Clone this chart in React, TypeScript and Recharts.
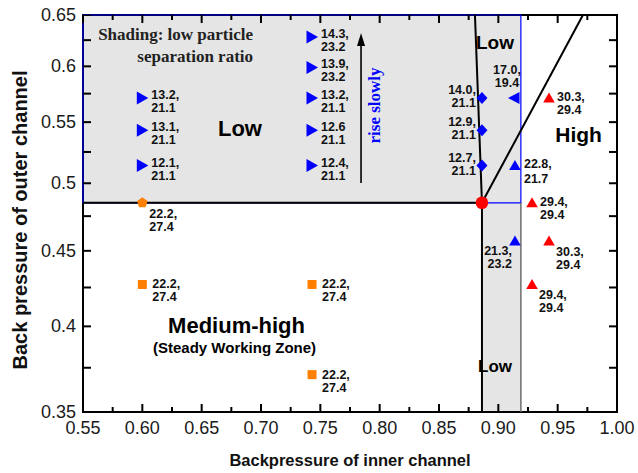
import React from "react";
import {
  ComposedChart,
  XAxis,
  YAxis,
  Scatter,
  ReferenceArea,
  ReferenceLine,
  ReferenceDot,
} from "recharts";

const SANS = "'Liberation Sans', Arial, Helvetica, sans-serif";
const SERIF = "'Liberation Serif', 'Times New Roman', serif";

// axis ticks: even index = labelled major tick, odd index = minor tick
const X_TICKS = [
  0.55, 0.575, 0.6, 0.625, 0.65, 0.675, 0.7, 0.725, 0.75, 0.775, 0.8, 0.825,
  0.85, 0.875, 0.9, 0.925, 0.95, 0.975, 1.0,
];
const Y_TICKS = [
  0.35, 0.375, 0.4, 0.425, 0.45, 0.475, 0.5, 0.525, 0.55, 0.575, 0.6, 0.625,
  0.65,
];

// measured points: x = inner backpressure, y = outer backpressure, label = two lines
const blueRight = [
  { x: 0.6, y: 0.571, label: ["13.2,", "21.1"] },
  { x: 0.6, y: 0.543, label: ["13.1,", "21.1"] },
  { x: 0.6, y: 0.514, label: ["12.1,", "21.1"] },
  { x: 0.743, y: 0.628, label: ["14.3,", "23.2"] },
  { x: 0.743, y: 0.599, label: ["13.9,", "23.2"] },
  { x: 0.743, y: 0.571, label: ["13.2,", "21.1"] },
  { x: 0.743, y: 0.543, label: ["12.6", "21.1"] },
  { x: 0.743, y: 0.514, label: ["12.4,", "21.1"] },
];
const blueDiamond = [
  { x: 0.8862, y: 0.571, label: ["14.0,", "21.1"] },
  { x: 0.8862, y: 0.543, label: ["12.9,", "21.1"] },
  { x: 0.8862, y: 0.514, label: ["12.7,", "21.1"] },
];
const blueLeft = [{ x: 0.9132, y: 0.571, label: ["17.0,", "19.4"] }];
const blueUpRight = [{ x: 0.914, y: 0.514, label: ["22.8,", "21.7"] }];
const blueUpBelow = [{ x: 0.914, y: 0.457, label: ["21.3,", "23.2"] }];
const redUpRight = [
  { x: 0.9427, y: 0.571, label: ["30.3,", "29.4"] },
  { x: 0.9284, y: 0.485, label: ["29.4,", "29.4"] },
];
const redUpBelow = [
  { x: 0.9427, y: 0.457, label: ["30.3,", "29.4"] },
  { x: 0.9284, y: 0.427, label: ["29.4,", "29.4"] },
];
const orangePentagon = [{ x: 0.6, y: 0.485, label: ["22.2,", "27.4"] }];
const orangeSquare = [
  { x: 0.6, y: 0.427, label: ["22.2,", "27.4"] },
  { x: 0.743, y: 0.427, label: ["22.2,", "27.4"] },
  { x: 0.743, y: 0.371, label: ["22.2,", "27.4"] },
];
const criticalPoint = [{ x: 0.8862, y: 0.485 }];

// zone boundaries
const X_MIN = 0.55;
const X_MAX = 1.0;
const Y_MIN = 0.35;
const Y_MAX = 0.65;
const CRIT_X = 0.8862;
const CRIT_Y = 0.485;
const STRIP_X = 0.919;
const TILT_TOP_X = 0.8803;
const DIAG_TOP_X = 0.9713;
const ARROW_X = 0.7843;
const ARROW_Y = [0.5002, 0.632];

const BLUE = "#0000ff";
const RED = "#ff0000";
const ORANGE = "#ff8000";
const SHADE = "#e5e5e5";

// tick-mark anchors on the four sides of the frame
const bottomMarks = X_TICKS.map((v, i) => ({ x: v, y: Y_MIN, minor: i % 2 === 1 }));
const topMarks = X_TICKS.map((v, i) => ({ x: v, y: Y_MAX, minor: i % 2 === 1 }));
const leftMarks = Y_TICKS.map((v) => ({ x: X_MIN, y: v }));
const rightMarks = Y_TICKS.map((v) => ({ x: X_MAX, y: v }));

const pair = (
  x: number,
  y: number,
  lines: string[],
  anchor: "start" | "end" | "middle",
  gap = 13
) => (
  <text
    x={x}
    y={y}
    textAnchor={anchor}
    fontFamily={SANS}
    fontWeight="bold"
    fontSize={12.5}
    fill="#111"
  >
    <tspan x={x}>{lines[0]}</tspan>
    <tspan x={x} dy={gap}>
      {lines[1]}
    </tspan>
  </text>
);

const TriRight = ({ cx, cy, payload }: any) => (
  <g>
    <polygon points={`${cx - 5.5},${cy - 6.5} ${cx + 6},${cy} ${cx - 5.5},${cy + 6.5}`} fill={BLUE} />
    {pair(cx + 9, cy + 1, payload.label, "start")}
  </g>
);

const Diamond = ({ cx, cy, payload }: any) => (
  <g>
    <polygon points={`${cx},${cy - 6} ${cx + 5.5},${cy} ${cx},${cy + 6} ${cx - 5.5},${cy}`} fill={BLUE} />
    {pair(cx - 6, cy - 4, payload.label, "end")}
  </g>
);

const TriLeft = ({ cx, cy, payload }: any) => (
  <g>
    <polygon points={`${cx + 5.5},${cy - 6} ${cx - 6},${cy} ${cx + 5.5},${cy + 6}`} fill={BLUE} />
    {pair(cx - 7, cy - 24, payload.label, "middle")}
  </g>
);

const up = (cx: number, cy: number, fill: string) => (
  <polygon points={`${cx},${cy - 5.5} ${cx + 5.8},${cy + 4.5} ${cx - 5.8},${cy + 4.5}`} fill={fill} />
);

const BlueUpRight = ({ cx, cy, payload }: any) => (
  <g>
    {up(cx, cy, BLUE)}
    {pair(cx + 9, cy + 2, payload.label, "start", 15)}
  </g>
);

const BlueUpBelow = ({ cx, cy, payload }: any) => (
  <g>
    {up(cx, cy, BLUE)}
    {pair(cx - 3, cy + 14, payload.label, "end")}
  </g>
);

const RedUpRight = ({ cx, cy, payload }: any) => (
  <g>
    {up(cx, cy, RED)}
    {pair(cx + 8, cy + 3, payload.label, "start")}
  </g>
);

const RedUpBelow = ({ cx, cy, payload }: any) => (
  <g>
    {up(cx, cy, RED)}
    {pair(cx + 7, cy + 15, payload.label, "start")}
  </g>
);

const Pentagon = ({ cx, cy, payload }: any) => {
  const pts = [0, 1, 2, 3, 4]
    .map((i) => {
      const a = -Math.PI / 2 + (i * 2 * Math.PI) / 5;
      return `${cx + 5.5 * Math.cos(a)},${cy + 5.5 * Math.sin(a)}`;
    })
    .join(" ");
  return (
    <g>
      <polygon points={pts} fill={ORANGE} />
      {pair(cx + 7, cy + 15, payload.label, "start")}
    </g>
  );
};

const Square = ({ cx, cy, payload }: any) => (
  <g>
    <rect x={cx - 4.5} y={cy - 4.5} width={9} height={9} fill={ORANGE} />
    {pair(cx + 10, cy + 4, payload.label, "start")}
  </g>
);

const RedDot = ({ cx, cy }: any) => <circle cx={cx} cy={cy} r={6.3} fill={RED} />;

// inward tick marks, drawn from the frame into the plot
const markLen = (p: any) => (p.payload && p.payload.minor ? 5 : 8);
const BottomMark = (p: any) => (
  <rect x={p.cx - 1} y={p.cy - markLen(p)} width={2} height={markLen(p)} fill="#000" />
);
const TopMark = (p: any) => (
  <rect x={p.cx - 1} y={p.cy} width={2} height={markLen(p)} fill="#000" />
);
const LeftMark = (p: any) => <rect x={p.cx} y={p.cy - 1} width={8} height={2} fill="#000" />;
const RightMark = (p: any) => <rect x={p.cx - 8} y={p.cy - 1} width={8} height={2} fill="#000" />;

// tick labels only
const BottomTick = ({ x, y, index, payload }: any) =>
  index % 2 === 0 ? (
    <text x={x} y={y + 22} textAnchor="middle" fontFamily={SANS} fontSize={18} fill="#1a1a1a">
      {Number(payload.value).toFixed(2)}
    </text>
  ) : (
    <g />
  );

const LeftTick = ({ x, y, index, payload }: any) =>
  index % 2 === 0 ? (
    <text x={x - 7} y={y + 6} textAnchor="end" fontFamily={SANS} fontSize={18} fill="#1a1a1a">
      {String(payload.value)}
    </text>
  ) : (
    <g />
  );

const Arrow = ({ x1, y1, x2, y2 }: any) => (
  <g>
    <line x1={x1} y1={y1} x2={x2} y2={y2 + 10} stroke="#000" strokeWidth={1.6} />
    <polygon points={`${x2},${y2} ${x2 + 4},${y2 + 13} ${x2 - 4},${y2 + 13}`} fill="#000" />
  </g>
);

const note =
  (text: string, size: number, opts: any = {}) =>
  ({ cx, cy }: any) => (
    <text
      x={cx}
      y={cy}
      textAnchor={opts.anchor || "middle"}
      fontFamily={opts.family || SANS}
      fontWeight="bold"
      fontSize={size}
      fill={opts.fill || "#000"}
      transform={opts.rotate ? `rotate(-90 ${cx} ${cy})` : undefined}
    >
      {text}
    </text>
  );

const ShadingNote = ({ cx, cy }: any) => (
  <text x={cx} y={cy} textAnchor="end" fontFamily={SERIF} fontWeight="bold" fontSize={17} fill="#222">
    <tspan x={cx}>Shading: low particle</tspan>
    <tspan x={cx} dy={22}>
      separation ratio
    </tspan>
  </text>
);

const axisIds = { xAxisId: "bottom", yAxisId: "left" };

export default function App() {
  return (
    <div style={{ position: "absolute", left: 0, top: 0, background: "#fff" }}>
      <ComposedChart
        width={638}
        height={473}
        margin={{ top: 15, right: 21, bottom: 0, left: 0 }}
      >
        <XAxis
          xAxisId="bottom"
          type="number"
          dataKey="x"
          domain={[X_MIN, X_MAX]}
          ticks={X_TICKS}
          interval={0}
          height={61}
          axisLine={false}
          tickLine={false}
          tickSize={0}
          tickMargin={0}
          tick={<BottomTick />}
          label={{
            content: ({ viewBox }: any) => (
              <text
                x={viewBox.x + viewBox.width / 2}
                y={viewBox.y + 54}
                textAnchor="middle"
                fontFamily={SANS}
                fontWeight="bold"
                fontSize={16.5}
                fill="#111"
              >
                Backpressure of inner channel
              </text>
            ),
          }}
        />
        <YAxis
          yAxisId="left"
          type="number"
          dataKey="y"
          scale="log"
          domain={[Y_MIN, Y_MAX]}
          allowDataOverflow
          ticks={Y_TICKS}
          interval={0}
          width={83}
          axisLine={false}
          tickLine={false}
          tickSize={0}
          tickMargin={0}
          tick={<LeftTick />}
          label={{
            content: () => {
              const cx = 27;
              const cy = 220;
              return (
                <text
                  x={cx}
                  y={cy}
                  transform={`rotate(-90 ${cx} ${cy})`}
                  textAnchor="middle"
                  fontFamily={SANS}
                  fontWeight="bold"
                  fontSize={20}
                  fill="#111"
                >
                  Back pressure of outer channel
                </text>
              );
            },
          }}
        />

        {/* shaded low-separation zones */}
        <ReferenceArea
          {...axisIds}
          x1={X_MIN}
          x2={STRIP_X}
          y1={CRIT_Y}
          y2={Y_MAX}
          fill={SHADE}
          fillOpacity={1}
          stroke="none"
        />
        <ReferenceArea
          {...axisIds}
          x1={CRIT_X}
          x2={STRIP_X}
          y1={Y_MIN}
          y2={CRIT_Y}
          fill={SHADE}
          fillOpacity={1}
          stroke="none"
        />

        {/* plot frame, then the blue outline of the shaded zone on top of it */}
        <ReferenceArea
          {...axisIds}
          x1={X_MIN}
          x2={X_MAX}
          y1={Y_MIN}
          y2={Y_MAX}
          fill="none"
          fillOpacity={0}
          stroke="#000"
          strokeWidth={2}
        />
        <ReferenceArea
          {...axisIds}
          x1={X_MIN}
          x2={STRIP_X}
          y1={CRIT_Y}
          y2={Y_MAX}
          fill="none"
          fillOpacity={0}
          stroke={BLUE}
          strokeWidth={1.2}
        />

        {/* zone boundaries */}
        <ReferenceLine
          {...axisIds}
          segment={[{ x: X_MIN, y: CRIT_Y }, { x: CRIT_X, y: CRIT_Y }]}
          stroke="#000"
          strokeWidth={2}
        />
        <ReferenceLine
          {...axisIds}
          segment={[{ x: CRIT_X, y: Y_MIN }, { x: CRIT_X, y: CRIT_Y }]}
          stroke="#000"
          strokeWidth={2}
        />
        <ReferenceLine
          {...axisIds}
          segment={[{ x: STRIP_X, y: Y_MIN }, { x: STRIP_X, y: CRIT_Y }]}
          stroke="#6e6e6e"
          strokeWidth={1.5}
        />
        <ReferenceLine
          {...axisIds}
          segment={[{ x: CRIT_X, y: CRIT_Y }, { x: TILT_TOP_X, y: Y_MAX }]}
          stroke="#000"
          strokeWidth={2}
        />
        <ReferenceLine
          {...axisIds}
          segment={[{ x: CRIT_X, y: CRIT_Y }, { x: DIAG_TOP_X, y: Y_MAX }]}
          stroke="#000"
          strokeWidth={2}
        />
        <ReferenceLine
          {...axisIds}
          segment={[{ x: ARROW_X, y: ARROW_Y[0] }, { x: ARROW_X, y: ARROW_Y[1] }]}
          shape={<Arrow />}
        />

        {/* annotations */}
        <ReferenceDot {...axisIds} x={0.6933} y={0.6252} r={1} shape={<ShadingNote />} />
        <ReferenceDot {...axisIds} x={0.6823} y={0.5381} r={1} shape={note("Low", 22)} />
        <ReferenceDot {...axisIds} x={0.8972} y={0.6165} r={1} shape={note("Low", 19)} />
        <ReferenceDot {...axisIds} x={0.9676} y={0.5332} r={1} shape={note("High", 21)} />
        <ReferenceDot {...axisIds} x={0.8972} y={0.3724} r={1} shape={note("Low", 17)} />
        <ReferenceDot {...axisIds} x={0.6794} y={0.3959} r={1} shape={note("Medium-high", 22)} />
        <ReferenceDot {...axisIds} x={0.6777} y={0.3837} r={1} shape={note("(Steady Working Zone)", 15)} />
        <ReferenceDot
          {...axisIds}
          x={0.8003}
          y={0.5645}
          r={1}
          shape={note("rise slowly", 17, { family: SERIF, fill: BLUE, rotate: true })}
        />

        {/* tick marks on all four sides */}
        <Scatter {...axisIds} data={bottomMarks} shape={<BottomMark />} isAnimationActive={false} />
        <Scatter {...axisIds} data={topMarks} shape={<TopMark />} isAnimationActive={false} />
        <Scatter {...axisIds} data={leftMarks} shape={<LeftMark />} isAnimationActive={false} />
        <Scatter {...axisIds} data={rightMarks} shape={<RightMark />} isAnimationActive={false} />

        {/* measured operating points */}
        <Scatter {...axisIds} data={blueRight} shape={<TriRight />} isAnimationActive={false} />
        <Scatter {...axisIds} data={blueDiamond} shape={<Diamond />} isAnimationActive={false} />
        <Scatter {...axisIds} data={blueLeft} shape={<TriLeft />} isAnimationActive={false} />
        <Scatter {...axisIds} data={blueUpRight} shape={<BlueUpRight />} isAnimationActive={false} />
        <Scatter {...axisIds} data={blueUpBelow} shape={<BlueUpBelow />} isAnimationActive={false} />
        <Scatter {...axisIds} data={redUpRight} shape={<RedUpRight />} isAnimationActive={false} />
        <Scatter {...axisIds} data={redUpBelow} shape={<RedUpBelow />} isAnimationActive={false} />
        <Scatter {...axisIds} data={orangePentagon} shape={<Pentagon />} isAnimationActive={false} />
        <Scatter {...axisIds} data={orangeSquare} shape={<Square />} isAnimationActive={false} />
        <Scatter {...axisIds} data={criticalPoint} shape={<RedDot />} isAnimationActive={false} />
      </ComposedChart>
    </div>
  );
}
